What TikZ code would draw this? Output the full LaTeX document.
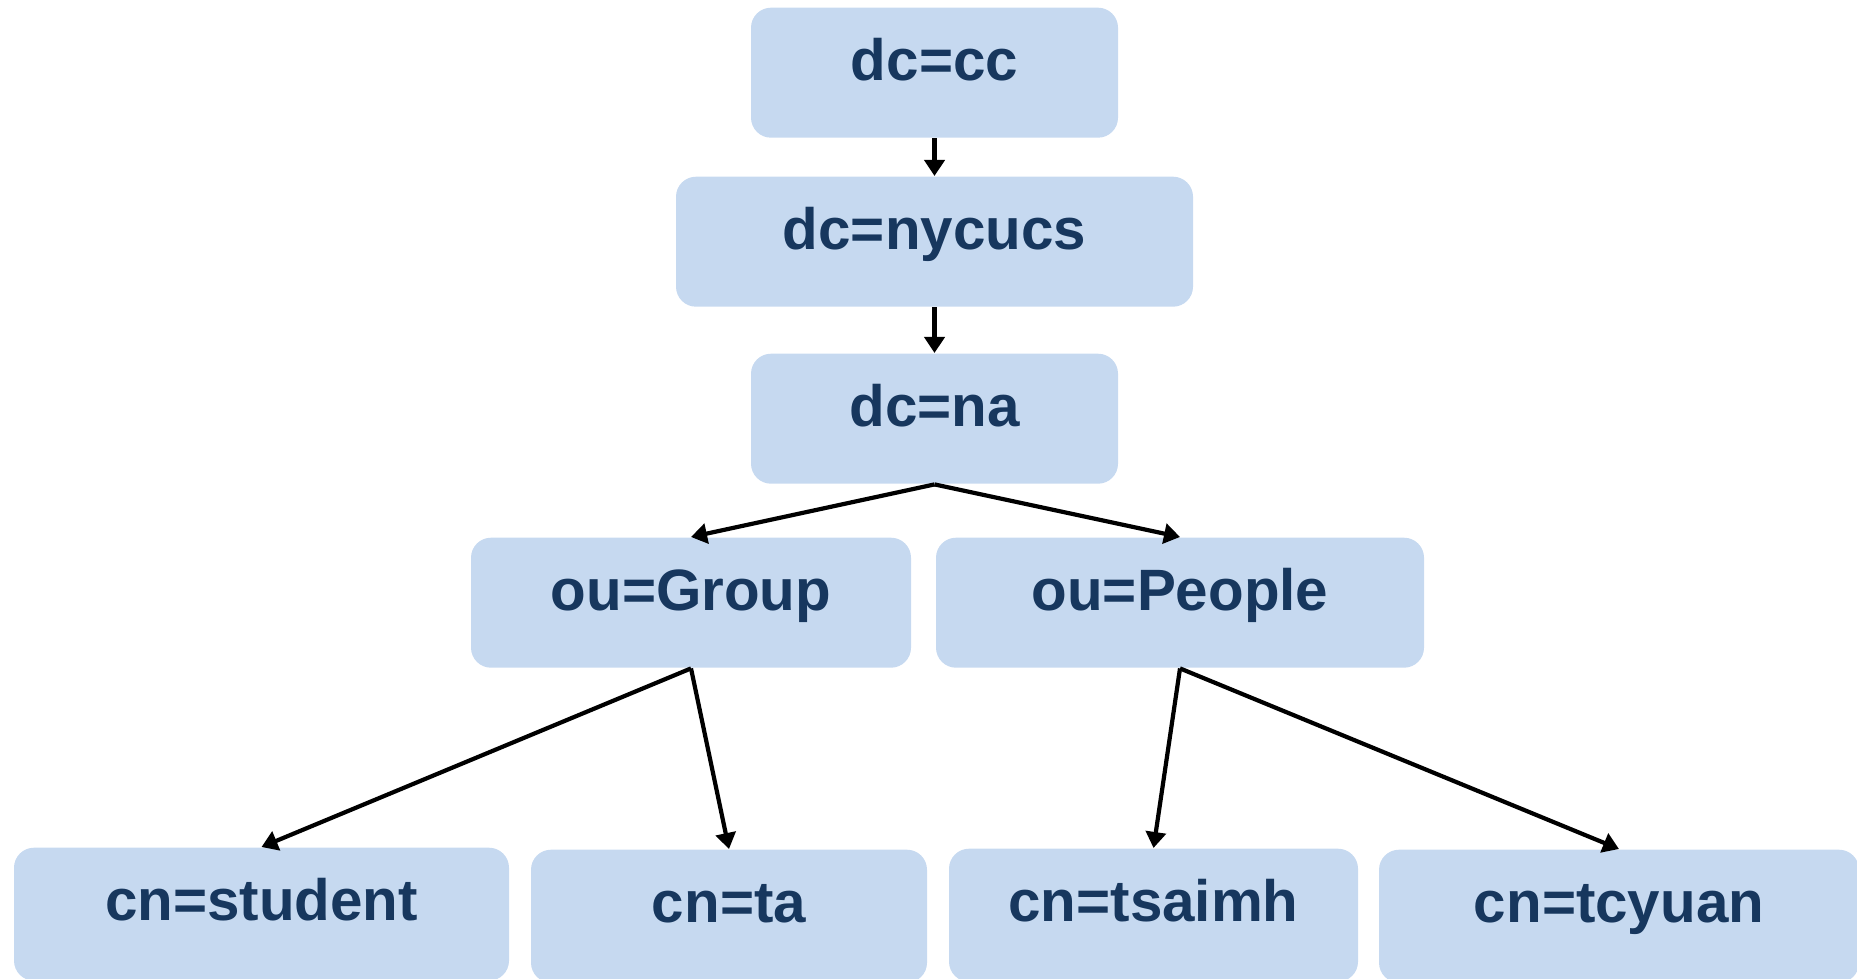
\documentclass[tikz,border=0pt]{standalone}
\usepackage{fontspec}
\setmainfont{Liberation Sans}
\usetikzlibrary{arrows.meta}
\definecolor{mfill}{rgb}{0.776, 0.851, 0.941}
\definecolor{mtext}{rgb}{0.09, 0.216, 0.369}
\tikzset{entry/.style = {fill=mfill, text=mtext, rounded corners=0.2cm, anchor=north,
                         inner sep=0, text height=0.73cm, text depth=0.57cm,
                         font=\fontsize{16.6}{20}\selectfont\bfseries},
         leaf/.style = {entry, text depth=0.6cm},
         link/.style = {-{Triangle[length=0.16cm, width=0.2cm]}, line width=0.042cm}}

\begin{document}
\begin{tikzpicture}
    \useasboundingbox (0, 0) rectangle (18.57, 9.78);

    \node [entry, minimum width=3.67cm] (cc) at (9.345, 9.71) {dc=cc};
    \node [entry, minimum width=5.17cm] (nycucs) at (9.345, 8.02) {dc=nycucs};
    \node [entry, minimum width=3.67cm] (na) at (9.345, 6.25) {dc=na};

    \node [entry, minimum width=4.40cm] (group) at (6.91, 4.41) {ou=Group};
    \node [entry, minimum width=4.88cm] (people) at (11.80, 4.41) {ou=People};

    \node [leaf, minimum width=4.95cm] (student) at (2.615, 1.31) {cn=student};
    \node [leaf, minimum width=3.96cm] (ta) at (7.29, 1.29) {cn=ta};
    \node [leaf, minimum width=4.09cm] (tsaimh) at (11.535, 1.30) {cn=tsaimh};
    \node [leaf, minimum width=4.80cm] (tcyuan) at (16.19, 1.29) {cn=tcyuan};

    \foreach \a/\b in {cc/nycucs, nycucs/na, na/group, na/people,
                       group/student, group/ta, people/tsaimh, people/tcyuan} {
      \draw [link] (\a.south) -- (\b.north);
    }
\end{tikzpicture}
\end{document}
